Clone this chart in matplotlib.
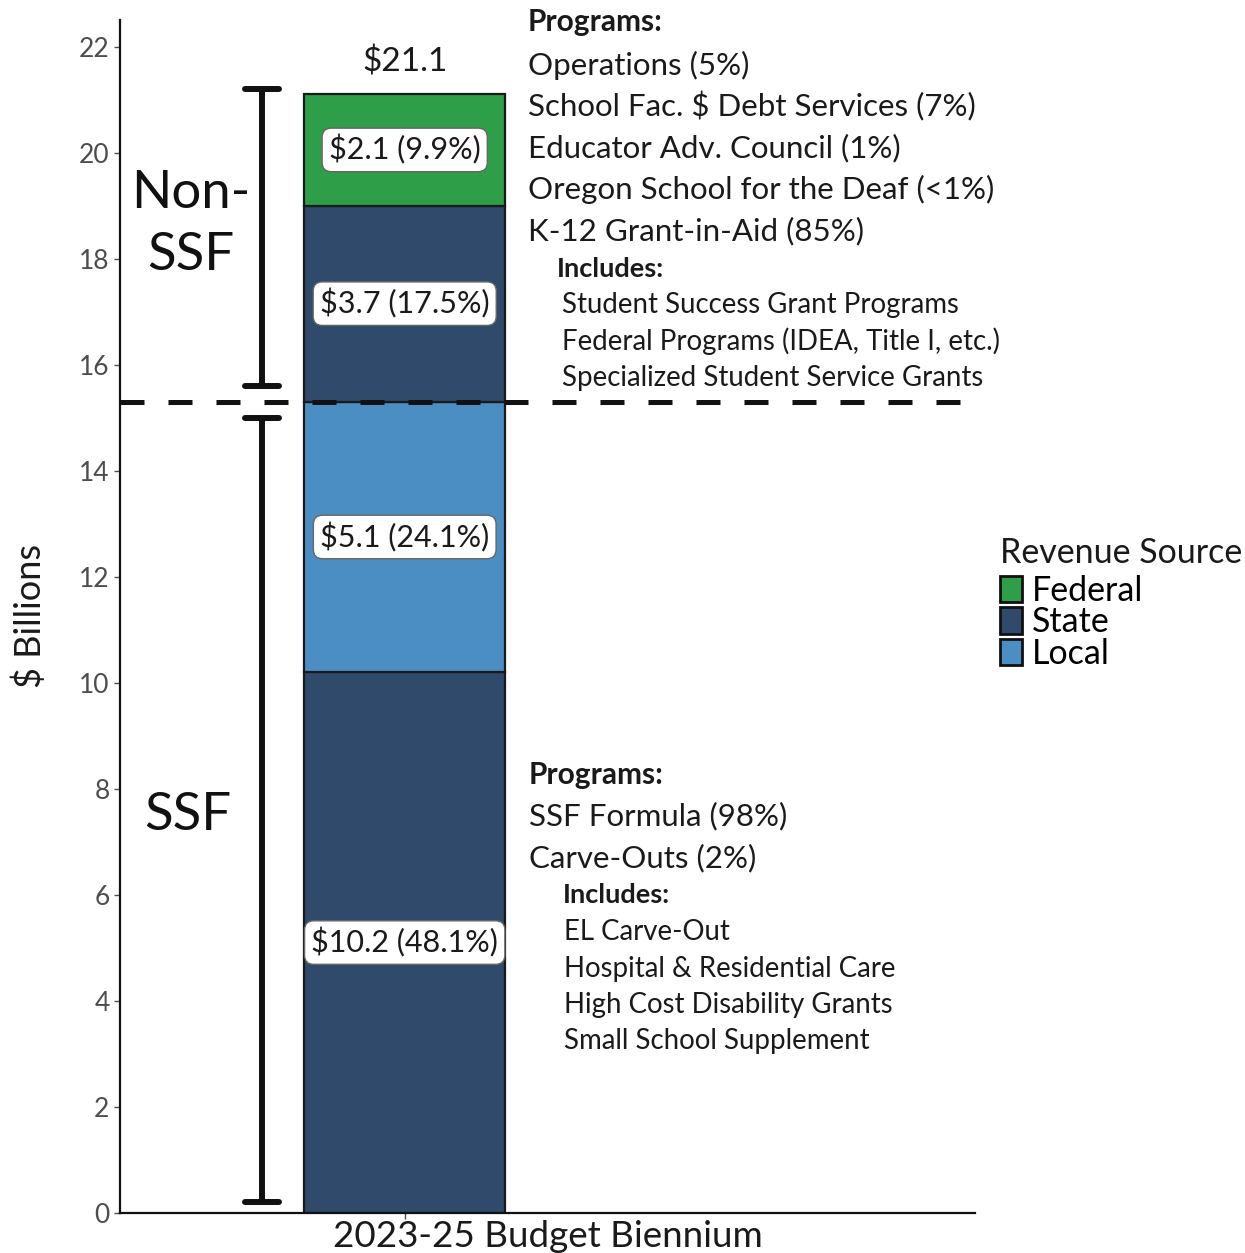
import numpy as np
import matplotlib.pyplot as plt
from matplotlib.patches import Patch

plt.rcParams['font.family'] = ['Lato', 'DejaVu Sans']

# stacked segments, bottom to top
segments = ['State', 'Local', 'State', 'Federal']
values = [10.2, 5.1, 3.7, 2.1]
pct_labels = ['$10.2 (48.1%)', '$5.1 (24.1%)', '$3.7 (17.5%)', '$2.1 (9.9%)']
category = '2023-25 Budget Biennium'
total = 21.1
ssf_total = 15.3

colors = {'Federal': '#2E9E48', 'State': '#2F4A6A', 'Local': '#4A8EC4'}

non_ssf_programs = ['Operations (5%)', 'School Fac. $ Debt Services (7%)',
                    'Educator Adv. Council (1%)', 'Oregon School for the Deaf (<1%)',
                    'K-12 Grant-in-Aid (85%)']
non_ssf_includes = ['Student Success Grant Programs',
                    'Federal Programs (IDEA, Title I, etc.)',
                    'Specialized Student Service Grants']
ssf_programs = ['SSF Formula (98%)', 'Carve-Outs (2%)']
ssf_includes = ['EL Carve-Out', 'Hospital & Residential Care',
                'High Cost Disability Grants', 'Small School Supplement']

W, H = 1245, 1253
fig = plt.figure(figsize=(W / 100, H / 100), dpi=100)
ax = fig.add_axes([120 / W, 40 / H, 855 / W, 1193 / H])

bar_x = 0.333
bar_w = 0.235
bottom = 0
for seg, v, lab in zip(segments, values, pct_labels):
    ax.bar(bar_x, v, bottom=bottom, width=bar_w, color=colors[seg],
           edgecolor='#1a1a1a', linewidth=1.6, zorder=2)
    ax.text(bar_x, bottom + v / 2, lab, ha='center', va='center', fontsize=22,
            color='#1a1a1a', zorder=5,
            bbox=dict(boxstyle='round,pad=0.22,rounding_size=0.3', fc='white',
                      ec='#666666', lw=1))
    bottom += v

ax.text(bar_x, total + 0.6, '$%.1f' % total, ha='center', va='center', fontsize=24,
        color='#1a1a1a')

# split between SSF and Non-SSF
ax.axhline(ssf_total, color='#111111', lw=3.6, linestyle=(0, (4.8, 4.8)), zorder=4)

# brackets
ex = 0.166
cw = 0.02
for lo, hi in [(0.2, ssf_total - 0.3), (ssf_total + 0.3, total + 0.1)]:
    ax.plot([ex, ex], [lo, hi], color='#111111', lw=4.3, solid_capstyle='butt')
    for yy in (lo, hi):
        ax.plot([ex - cw, ex + cw], [yy, yy], color='#111111', lw=4.3,
                solid_capstyle='round')

ax.text(0.083, 18.64, 'Non-\nSSF', ha='center', va='center', fontsize=38,
        linespacing=1.4, color='#111111')
ax.text(0.079, 7.5, 'SSF', ha='center', va='center', fontsize=38, color='#111111')

ax.set_xlim(0, 1)
ax.set_ylim(0, 22.5)
ax.set_yticks(np.arange(0, 23, 2))
ax.set_xticks([bar_x])
ax.set_xticklabels([''])
ax.set_xlabel(category, fontsize=26.5, color='#1a1a1a')
ax.xaxis.set_label_coords(0.5, -7 / 1193, transform=ax.transAxes)
ax.xaxis.label.set_va('top')
ax.tick_params(axis='y', labelsize=19, labelcolor='#4d4d4d', color='#4d4d4d',
               length=4, width=1)
ax.tick_params(axis='x', color='#4d4d4d', length=4, width=1, pad=2)
ax.set_ylabel('$ Billions', fontsize=26, color='#1a1a1a')
ax.yaxis.set_label_coords(-90 / 855, 0.5)
ax.yaxis.label.set_va('center')
for s in ['top', 'right']:
    ax.spines[s].set_visible(False)
for s in ['left', 'bottom']:
    ax.spines[s].set_linewidth(1.6)
    ax.spines[s].set_color('#111111')


def ftext(x, y, s, **kw):
    fig.text(x / W, 1 - y / H, s, va='center', ha='left', color='#1a1a1a', **kw)


ftext(528, 22, 'Programs:', fontsize=21.5, fontweight='bold')
for i, t in enumerate(non_ssf_programs):
    ftext(528, 65 + i * 41.5, t, fontsize=22.5)
ftext(557, 269, 'Includes:', fontsize=19.5, fontweight='bold')
for i, t in enumerate(non_ssf_includes):
    ftext(562, 305 + i * 36.5, t, fontsize=19.9)

ftext(529, 775, 'Programs:', fontsize=21.5, fontweight='bold')
for i, t in enumerate(ssf_programs):
    ftext(529, 816 + i * 42, t, fontsize=22.5)
ftext(563, 895, 'Includes:', fontsize=19.5, fontweight='bold')
for i, t in enumerate(ssf_includes):
    ftext(564, 932 + i * 36.5, t, fontsize=19.9)

# legend
ftext(1000, 553, 'Revenue Source', fontsize=24.5)
handles = [Patch(facecolor=colors[k], edgecolor='#111111', linewidth=2)
           for k in ['Federal', 'State', 'Local']]
leg = fig.legend(handles, ['Federal', 'State', 'Local'],
                 loc='upper left', bbox_to_anchor=(1000 / W, 1 - 575 / H),
                 frameon=False, fontsize=24.5,
                 handlelength=0.65, handleheight=0.8, handletextpad=0.3,
                 labelspacing=-0.02, borderaxespad=0, borderpad=0)

fig.savefig('out.png', dpi=100)
